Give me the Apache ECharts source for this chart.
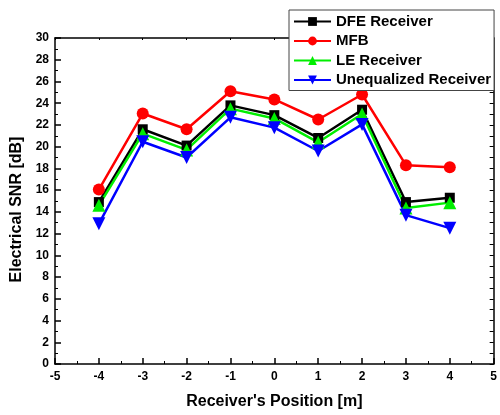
<!DOCTYPE html>
<html>
<head>
<meta charset="utf-8">
<script src="https://cdn.jsdelivr.net/npm/echarts@6/dist/echarts.min.js"></script>
<style>html,body{margin:0;padding:0;background:#fff}#c{width:500px;height:415px}</style>
</head>
<body>
<div id="c"></div>
<script>
const positions = [-4, -3, -2, -1, 0, 1, 2, 3, 4];
const dfe = [14.9, 21.6, 20.1, 23.8, 22.9, 20.8, 23.4, 14.9, 15.3];
const mfb = [16.05, 23.05, 21.6, 25.1, 24.35, 22.5, 24.8, 18.3, 18.1];
const le = [14.6, 21.2, 19.7, 23.5, 22.6, 20.4, 23.0, 14.35, 14.85];
const uneq = [12.9, 20.45, 19.0, 22.7, 21.75, 19.6, 22.05, 13.7, 12.5];
const yTicks = [0, 30, 2];
const xTicks = [-5, 5, 1];

const font = 'Liberation Sans, Arial, sans-serif';
function pts(arr){ return positions.map((x,i)=>[x, arr[i]]); }
function mk(name, data, color, symbol, size, rot){
  return {
    name, type:'line', data: pts(data), symbol, symbolSize:size, symbolRotate: rot||0,
    lineStyle:{color, width:2.5}, itemStyle:{color}, color,
  };
}
const chart = echarts.init(document.getElementById('c'));
const axisCommon = {
  axisLine:{show:true, onZero:false, lineStyle:{color:'#000', width:1.5}},
  splitLine:{show:false},
};
chart.setOption({
  animation:false,
  grid:{left:55, right:3, top:38, bottom:48},
  legend:{
    orient:'vertical', left:289, top:10,
    backgroundColor:'#fff', borderColor:'#444', borderWidth:1,
    padding:[4,3,3,4], itemGap:4.5, itemWidth:37, itemHeight:11,
    textStyle:{fontFamily:font, fontWeight:'bold', fontSize:15, color:'#000'},
    data:['DFE Receiver','MFB','LE Receiver','Unequalized Receiver']
  },
  xAxis:[
    Object.assign({type:'value', min:xTicks[0], max:xTicks[1], interval:xTicks[2], position:'bottom',
      name:"Receiver's Position [m]", nameLocation:'middle', nameGap:30,
      nameTextStyle:{fontFamily:font, fontWeight:'bold', fontSize:16, color:'#000'},
      axisTick:{inside:true, length:6, lineStyle:{color:'#000', width:1.5}},
      minorTick:{show:true, splitNumber:2, length:3, lineStyle:{color:'#000', width:1}},
      axisLabel:{fontFamily:font, fontWeight:'bold', fontSize:12, color:'#000', margin:7}}, axisCommon),
    Object.assign({type:'value', min:xTicks[0], max:xTicks[1], interval:xTicks[2], position:'top',
      axisTick:{inside:true, length:2, lineStyle:{color:'#000'}},
      axisLabel:{show:false}}, axisCommon)
  ],
  yAxis:[
    Object.assign({type:'value', min:yTicks[0], max:yTicks[1], interval:yTicks[2], position:'left',
      name:'Electrical SNR [dB]', nameLocation:'middle', nameGap:26,
      nameTextStyle:{fontFamily:font, fontWeight:'bold', fontSize:16, color:'#000', padding:[0,17,0,0]},
      axisTick:{inside:true, length:6, lineStyle:{color:'#000', width:1.5}},
      minorTick:{show:true, splitNumber:2, length:3, lineStyle:{color:'#000', width:1}},
      axisLabel:{fontFamily:font, fontWeight:'bold', fontSize:12, color:'#000', margin:6}}, axisCommon),
    Object.assign({type:'value', min:yTicks[0], max:yTicks[1], interval:yTicks[2], position:'right',
      axisTick:{inside:true, length:4, lineStyle:{color:'#000'}},
      minorTick:{show:true, splitNumber:2, length:4, lineStyle:{color:'#000'}},
      axisLabel:{show:false}}, axisCommon)
  ],
  series:[
    mk('DFE Receiver', dfe, '#000000', 'rect', 10),
    mk('MFB', mfb, '#ff0000', 'circle', 12),
    mk('LE Receiver', le, '#00ee00', 'triangle', 13),
    mk('Unequalized Receiver', uneq, '#0000ff', 'triangle', 13, 180)
  ]
});
</script>
</body>
</html>
